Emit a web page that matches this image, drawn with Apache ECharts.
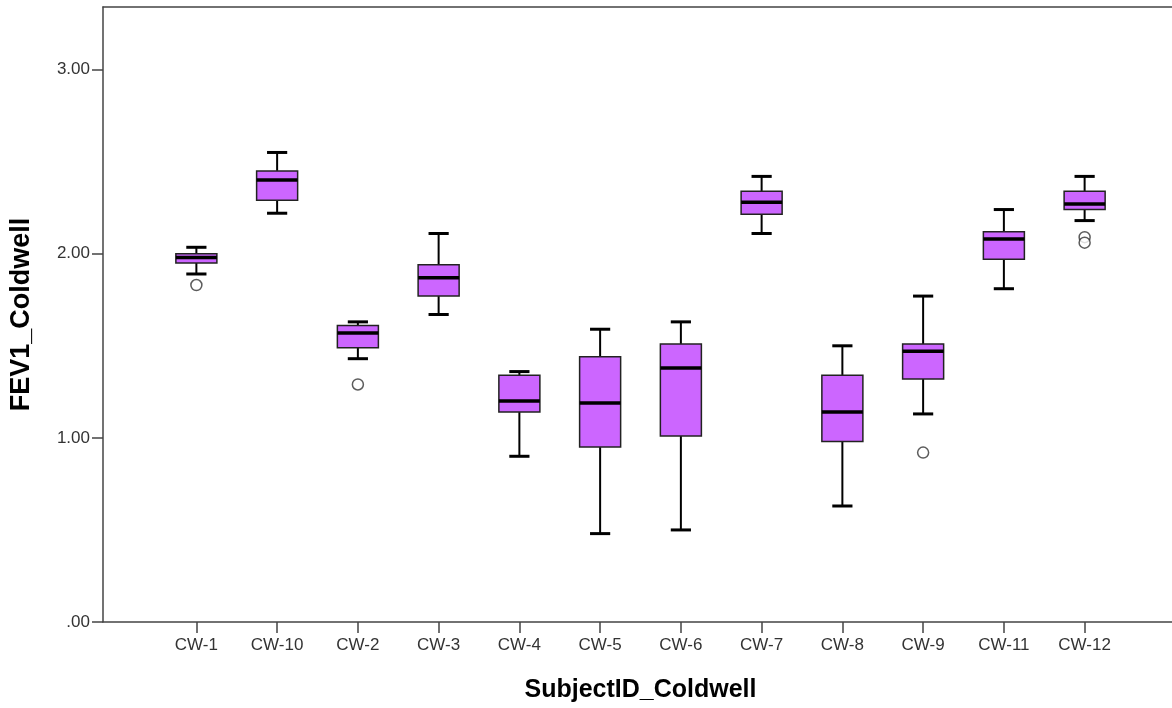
<!DOCTYPE html>
<html>
<head>
<meta charset="utf-8">
<script src="https://cdn.jsdelivr.net/npm/echarts@6/dist/echarts.min.js"></script>
<style>
html,body{margin:0;padding:0;background:#fff;}
#chart{width:1172px;height:708px;}
</style>
</head>
<body>
<div id="chart"></div>
<script>
// ---- data ----
var categories = ['CW-1','CW-10','CW-2','CW-3','CW-4','CW-5','CW-6','CW-7','CW-8','CW-9','CW-11','CW-12'];
var lowerWhisker = [1.89, 2.22, 1.43, 1.67, 0.90, 0.48, 0.50, 2.11, 0.63, 1.13, 1.81, 2.18];
var q1Values     = [1.95, 2.29, 1.49, 1.77, 1.14, 0.95, 1.01, 2.215, 0.98, 1.32, 1.97, 2.24];
var medianValues = [1.98, 2.40, 1.57, 1.87, 1.20, 1.19, 1.38, 2.28, 1.14, 1.47, 2.08, 2.27];
var q3Values     = [2.00, 2.45, 1.61, 1.94, 1.34, 1.44, 1.51, 2.34, 1.34, 1.51, 2.12, 2.34];
var upperWhisker = [2.035, 2.55, 1.63, 2.11, 1.36, 1.59, 1.63, 2.42, 1.50, 1.77, 2.24, 2.42];
var outlierCategory = ['CW-1','CW-2','CW-9','CW-12','CW-12'];
var outlierValue    = [1.83, 1.29, 0.92, 2.09, 2.06];
var yTicks = [0, 1, 2, 3];
var xTitle = 'SubjectID_Coldwell';
var yTitle = 'FEV1_Coldwell';

var boxData = categories.map(function (c, i) {
  return [i, lowerWhisker[i], q1Values[i], medianValues[i], q3Values[i], upperWhisker[i]];
});
var outlierData = outlierCategory.map(function (c, i) {
  return [categories.indexOf(c), outlierValue[i]];
});

var YMAX = 3.34;
var FONT = 'Arial, "Liberation Sans", sans-serif';
var AXIS_LINE = { show: true, lineStyle: { color: '#444', width: 1.5 } };

function renderBox(params, api) {
  var x = api.value(0);
  var pLow = api.coord([x, api.value(1)]);
  var pQ1 = api.coord([x, api.value(2)]);
  var pMed = api.coord([x, api.value(3)]);
  var pQ3 = api.coord([x, api.value(4)]);
  var pHigh = api.coord([x, api.value(5)]);
  var band = api.size([1, 0])[0];
  var hw = band * 0.254;
  var cw = band * 0.125;
  var cx = pMed[0];
  var black = '#000';
  return {
    type: 'group',
    children: [
      { type: 'line', shape: { x1: cx, y1: pHigh[1], x2: cx, y2: pQ3[1] }, style: { stroke: black, lineWidth: 2 } },
      { type: 'line', shape: { x1: cx, y1: pQ1[1], x2: cx, y2: pLow[1] }, style: { stroke: black, lineWidth: 2 } },
      { type: 'line', shape: { x1: cx - cw, y1: pHigh[1], x2: cx + cw, y2: pHigh[1] }, style: { stroke: black, lineWidth: 3 } },
      { type: 'line', shape: { x1: cx - cw, y1: pLow[1], x2: cx + cw, y2: pLow[1] }, style: { stroke: black, lineWidth: 3 } },
      { type: 'rect', shape: { x: cx - hw, y: pQ3[1], width: hw * 2, height: pQ1[1] - pQ3[1] },
        style: { fill: '#cc66ff', stroke: '#222', lineWidth: 1.5 } },
      { type: 'line', shape: { x1: cx - hw, y1: pMed[1], x2: cx + hw, y2: pMed[1] }, style: { stroke: black, lineWidth: 3.5 } }
    ]
  };
}

var chart = echarts.init(document.getElementById('chart'));
chart.setOption({
  animation: false,
  backgroundColor: '#fff',
  grid: [
    { left: 102, right: 0, top: 7, bottom: 86 },
    { left: 156, right: 47, top: 7, bottom: 86 }
  ],
  xAxis: [
    { gridIndex: 0, type: 'value', position: 'bottom', min: 0, max: 1, axisLine: AXIS_LINE,
      axisTick: { show: false }, axisLabel: { show: false }, splitLine: { show: false } },
    { gridIndex: 0, type: 'value', position: 'top', min: 0, max: 1, axisLine: AXIS_LINE,
      axisTick: { show: false }, axisLabel: { show: false }, splitLine: { show: false } },
    {
      gridIndex: 1, type: 'category', data: categories, boundaryGap: true,
      axisLine: { show: false },
      axisTick: { show: true, alignWithLabel: true, length: 11, lineStyle: { color: '#444', width: 1.5 } },
      axisLabel: { color: '#333', fontSize: 17, fontFamily: FONT, margin: 15, interval: 0 },
      splitLine: { show: false },
      name: xTitle, nameLocation: 'middle', nameGap: 56,
      nameTextStyle: { color: '#000', fontSize: 25, fontWeight: 'bold', fontFamily: FONT }
    }
  ],
  yAxis: [
    {
      gridIndex: 0, type: 'value', min: 0, max: YMAX,
      axisLine: AXIS_LINE,
      axisTick: { show: true, length: 11, customValues: yTicks, lineStyle: { color: '#444', width: 1.5 } },
      axisLabel: {
        color: '#333', fontSize: 17, fontFamily: FONT, margin: 13, customValues: yTicks,
        formatter: function (v) { return v === 0 ? '.00' : v.toFixed(2); }
      },
      splitLine: { show: false },
      name: yTitle, nameLocation: 'middle', nameGap: 68,
      nameTextStyle: { color: '#000', fontSize: 27, fontWeight: 'bold', fontFamily: FONT }
    },
    { gridIndex: 1, type: 'value', min: 0, max: YMAX, show: false }
  ],
  series: [
    {
      type: 'custom', xAxisIndex: 2, yAxisIndex: 1, data: boxData,
      renderItem: renderBox, encode: { x: 0, y: [1, 2, 3, 4, 5] }
    },
    {
      type: 'scatter', xAxisIndex: 2, yAxisIndex: 1, data: outlierData,
      symbol: 'circle', symbolSize: 11,
      itemStyle: { color: '#fff', borderColor: '#333', borderWidth: 1.5 }
    }
  ]
});
</script>
</body>
</html>
